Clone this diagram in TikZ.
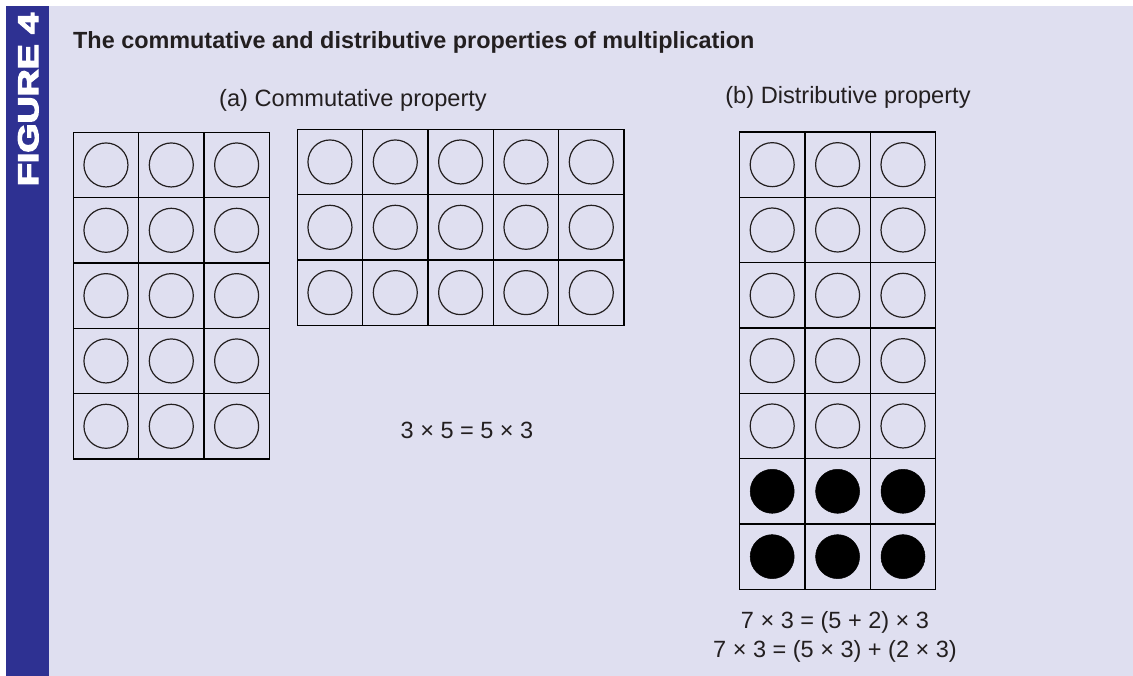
\documentclass[tikz,border=0pt]{standalone}
\usepackage{fontspec}
\setmainfont{Liberation Sans}
\newfontfamily\figfont[FakeBold=4]{Liberation Sans Bold}
\definecolor{barblue}{RGB}{46,49,146}
\definecolor{lav}{RGB}{223,223,240}
\definecolor{ink}{RGB}{35,31,32}
\begin{document}
\begin{tikzpicture}[x=1pt,y=-1pt,
  cell/.style={draw=black,line width=1.3pt,minimum size=65.33pt,inner sep=0pt,outer sep=0pt},
  dot/.style={circle,draw=ink,line width=1.2pt,minimum size=44pt,inner sep=0pt},
  fdot/.style={circle,fill=black,draw=black,line width=0.5pt,minimum size=44pt,inner sep=0pt},
  txt/.style={text=ink,font=\fontsize{23.5}{28}\selectfont,inner sep=0pt,anchor=base}]
\useasboundingbox (0,0) rectangle (1133,676);
\fill[white] (0,0) rectangle (1133,676);
\fill[barblue] (6,6) rectangle (49,676);
\fill[lav] (49,6) rectangle (1133,676);
\node[text=white,inner sep=0pt] (fig) at (28.3,99.5) {\rotatebox{90}{\resizebox{173pt}{20pt}{\figfont FIGURE 4}}};
\node[txt,anchor=base west,font=\fontsize{23.4}{28}\selectfont\bfseries] (title) at (73,49) {The commutative and distributive properties of multiplication};
\node[txt,font=\fontsize{23.6}{28}\selectfont] (la) at (353,107) {(a) Commutative property};
\node[txt,font=\fontsize{23.6}{28}\selectfont] (lb) at (848,104) {(b) Distributive property};
\node[txt] (eqa) at (467,438) {3 × 5 = 5 × 3};
\node[txt] (eqb1) at (835,628) {7 × 3 = (5 + 2) × 3};
\node[txt] (eqb2) at (835,657) {7 × 3 = (5 × 3) + (2 × 3)};
% left grid 3x5
\foreach \i in {0,1,2} \foreach \j in {0,...,4} {
  \node[cell] (A-\i-\j) at ({73.3+(\i+0.5)*65.33},{132.3+(\j+0.5)*65.33}) {};
  \node[dot] (a-\i-\j) at (A-\i-\j) {};
}
% middle grid 5x3
\foreach \i in {0,...,4} \foreach \j in {0,1,2} {
  \node[cell] (B-\i-\j) at ({297.3+(\i+0.5)*65.33},{129.3+(\j+0.5)*65.33}) {};
  \node[dot] (b-\i-\j) at (B-\i-\j) {};
}
% right grid 3x7
\foreach \i in {0,1,2} \foreach \j in {0,...,6} {
  \node[cell] (C-\i-\j) at ({739.5+(\i+0.5)*65.4},{132+(\j+0.5)*65.33}) {};
}
\foreach \i in {0,1,2} \foreach \j in {0,...,4} {
  \node[dot] (c-\i-\j) at (C-\i-\j) {};
}
\foreach \i in {0,1,2} \foreach \j in {5,6} {
  \node[fdot] (c-\i-\j) at (C-\i-\j) {};
}
\end{tikzpicture}
\end{document}
